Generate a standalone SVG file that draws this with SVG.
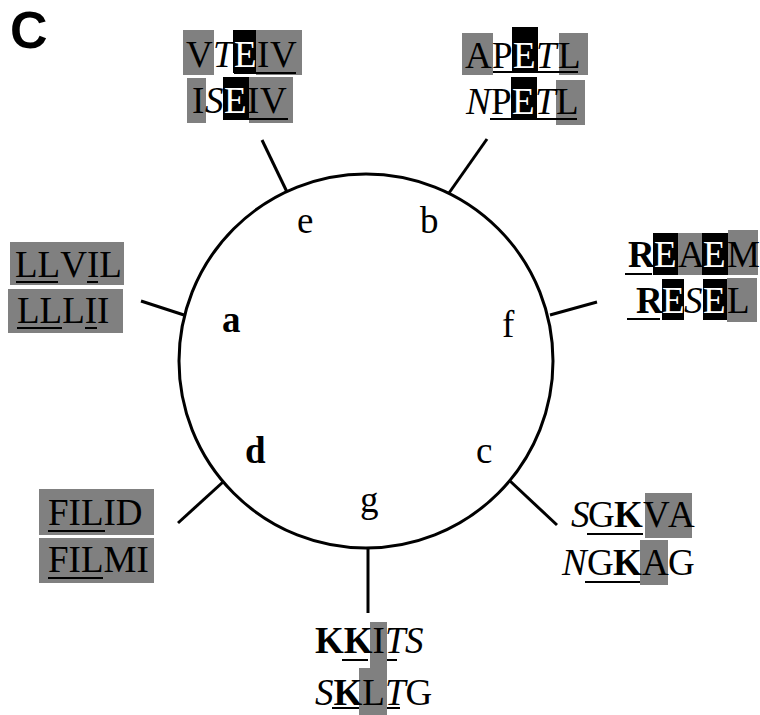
<svg xmlns="http://www.w3.org/2000/svg" width="760" height="715" viewBox="0 0 760 715">
<style>
.t{font-family:"Liberation Serif","Times New Roman",serif;font-size:37px;fill:#000}
.i{font-style:italic}
.b{font-weight:bold}
.w{fill:#fff}
.g{fill:#808080}
.k{fill:#000}
.sp{stroke:#000;stroke-width:3;fill:none}
.lbl{font-family:"Liberation Sans",Arial,sans-serif;font-weight:bold;font-size:52px}
</style>
<rect width="760" height="715" fill="#fff"/>
<text class="lbl" x="10" y="48">C</text>
<g id="helix">
<circle cx="366" cy="361" r="187" class="sp"/>
<text class="t" x="297" y="233">e</text>
<text class="t" x="420" y="233">b</text>
<text class="t b" x="222" y="332">a</text>
<text class="t" x="502" y="337">f</text>
<text class="t b" x="245" y="463">d</text>
<text class="t" x="476" y="463">c</text>
<text class="t" x="360" y="512">g</text>
</g>
<g id="connectors">
<line class="sp" x1="287" y1="192" x2="262" y2="140"/>
<line class="sp" x1="449" y1="193" x2="487" y2="139"/>
<line class="sp" x1="184" y1="315" x2="141" y2="301"/>
<line class="sp" x1="550" y1="315" x2="597" y2="302"/>
<line class="sp" x1="223" y1="482" x2="178" y2="523"/>
<line class="sp" x1="510" y1="481" x2="557" y2="525"/>
<line class="sp" x1="368" y1="548" x2="368" y2="613"/>
</g>
<g id="node-e">
<rect class="g" x="183" y="30" width="31" height="45"/>
<rect class="k" x="233" y="30" width="23" height="43"/>
<rect class="g" x="256" y="30" width="46" height="45"/>
<rect class="k" x="234" y="72" width="62" height="2"/>
<text class="t" y="67"><tspan x="186">V</tspan><tspan x="213" class="i">T</tspan><tspan x="234" class="w">E</tspan><tspan x="257">I</tspan><tspan x="270">V</tspan></text>
<rect class="g" x="187" y="78" width="19" height="45"/>
<rect class="k" x="223" y="77" width="26" height="43"/>
<rect class="g" x="249" y="77" width="44" height="46"/>
<rect class="k" x="249" y="118" width="39" height="2"/>
<text class="t" y="113"><tspan x="192">I</tspan><tspan x="205" class="i">S</tspan><tspan x="224" class="w">E</tspan><tspan x="247">I</tspan><tspan x="260">V</tspan></text>
</g>
<g id="node-b">
<rect class="g" x="462" y="33" width="31" height="42"/>
<rect class="k" x="512" y="27" width="26" height="46"/>
<rect class="g" x="559" y="33" width="29" height="42"/>
<rect class="k" x="493" y="71" width="85" height="2"/>
<text class="t" y="68"><tspan x="465">A</tspan><tspan x="492">P</tspan><tspan x="513" class="w">E</tspan><tspan x="536" class="i">T</tspan><tspan x="558">L</tspan></text>
<rect class="k" x="511" y="77" width="26" height="43"/>
<rect class="g" x="556" y="80" width="29" height="45"/>
<rect class="k" x="490" y="118" width="87" height="2"/>
<text class="t" y="114"><tspan x="466" class="i">N</tspan><tspan x="491">P</tspan><tspan x="512" class="w">E</tspan><tspan x="535" class="i">T</tspan><tspan x="556">L</tspan></text>
</g>
<g id="node-f">
<rect class="k" x="653" y="233" width="25" height="42"/>
<rect class="g" x="678" y="233" width="24" height="42"/>
<rect class="k" x="702" y="233" width="26" height="42"/>
<rect class="g" x="728" y="230" width="30" height="45"/>
<rect class="k" x="625" y="273" width="27" height="2"/>
<text class="t" y="267"><tspan x="628" class="b">R</tspan><tspan x="654" class="w">E</tspan><tspan x="678">A</tspan><tspan x="703" class="w">E</tspan><tspan x="727">M</tspan></text>
<rect class="k" x="662" y="279" width="22" height="41"/>
<rect class="k" x="703" y="279" width="25" height="41"/>
<rect class="g" x="727" y="278" width="30" height="44"/>
<rect class="k" x="627" y="318" width="33" height="2"/>
<text class="t" y="313"><tspan x="636" class="b">R</tspan><tspan x="662" class="w">E</tspan><tspan x="684" class="i">S</tspan><tspan x="703" class="w">E</tspan><tspan x="727">L</tspan></text>
</g>
<g id="node-a">
<rect class="g" x="10" y="242" width="114" height="43"/>
<rect class="k" x="16" y="281" width="42" height="2"/>
<rect class="k" x="87" y="281" width="11" height="2"/>
<text class="t" y="277"><tspan x="15">L</tspan><tspan x="37.6">L</tspan><tspan x="60.2">V</tspan><tspan x="86.9">I</tspan><tspan x="99.2">L</tspan></text>
<rect class="g" x="8" y="289" width="115" height="44"/>
<rect class="k" x="17" y="327" width="45" height="2"/>
<rect class="k" x="85" y="327" width="12" height="2"/>
<text class="t" y="323"><tspan x="17">L</tspan><tspan x="39.6">L</tspan><tspan x="62.2">L</tspan><tspan x="84.8">I</tspan><tspan x="97.1">I</tspan></text>
</g>
<g id="node-d">
<rect class="g" x="39" y="489" width="115" height="46"/>
<rect class="k" x="48" y="530" width="57" height="2"/>
<text class="t" y="525"><tspan x="48">F</tspan><tspan x="68.6">I</tspan><tspan x="80.9">L</tspan><tspan x="103.5">I</tspan><tspan x="115.8">D</tspan></text>
<rect class="g" x="39" y="538" width="115" height="45"/>
<rect class="k" x="48" y="577" width="55" height="2"/>
<text class="t" y="572"><tspan x="48">F</tspan><tspan x="68.6">I</tspan><tspan x="80.9">L</tspan><tspan x="103.5">M</tspan><tspan x="136.4">I</tspan></text>
</g>
<g id="node-c">
<rect class="g" x="645" y="493" width="47" height="45"/>
<rect class="k" x="587" y="533" width="56" height="2"/>
<text class="t" y="527"><tspan x="571" class="i">S</tspan><tspan x="588">G</tspan><tspan x="614" class="b">K</tspan><tspan x="643">V</tspan><tspan x="668">A</tspan></text>
<rect class="g" x="640" y="540" width="28" height="45"/>
<rect class="k" x="585" y="581" width="55" height="2"/>
<text class="t" y="575"><tspan x="562" class="i">N</tspan><tspan x="587">G</tspan><tspan x="613" class="b">K</tspan><tspan x="642">A</tspan><tspan x="668">G</tspan></text>
</g>
<g id="node-g">
<rect class="k" x="342" y="659" width="26" height="2"/>
<rect class="k" x="384" y="659" width="13" height="2"/>
<rect class="g" x="370" y="622" width="17" height="46"/>
<text class="t" y="653"><tspan x="315" class="b">K</tspan><tspan x="343.8" class="b">K</tspan><tspan x="372.6">I</tspan><tspan x="385" class="i">T</tspan><tspan x="405" class="i">S</tspan></text>
<rect class="g" x="359" y="668" width="28" height="47"/>
<rect class="k" x="332" y="707" width="27" height="2"/>
<rect class="k" x="387" y="707" width="13" height="2"/>
<text class="t" y="705"><tspan x="315" class="i">S</tspan><tspan x="333.5" class="b">K</tspan><tspan x="362.3">L</tspan><tspan x="385" class="i">T</tspan><tspan x="405.5">G</tspan></text>
</g>
</svg>
